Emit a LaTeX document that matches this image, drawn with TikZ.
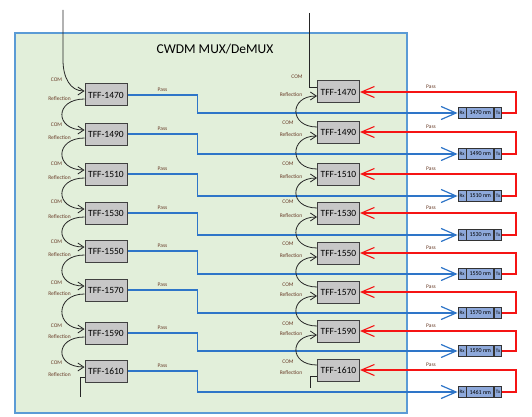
\documentclass[tikz,border=0pt]{standalone}
\usepackage{fontspec}
\setmainfont{Carlito}
\usetikzlibrary{arrows.meta}
\usetikzlibrary{positioning}

\definecolor{boxgreen}{RGB}{226,239,218}
\definecolor{boxblue}{RGB}{91,155,213}
\definecolor{wireblue}{RGB}{46,117,200}
\definecolor{wirered}{RGB}{245,20,20}
\definecolor{lblcol}{RGB}{105,60,40}
\definecolor{trxfill}{RGB}{142,169,219}

\tikzset{
  tff/.style={draw=black!75, fill=black!22, line width=1pt, minimum width=42pt, minimum height=22pt, inner sep=0pt, font=\fontsize{9.5}{10}\selectfont},
  trx/.style={draw=black!80, fill=trxfill, line width=0.8pt, minimum height=11pt, inner sep=0pt, font=\fontsize{5}{5}\selectfont},
  lbl/.style={font=\fontsize{5.5}{6}\selectfont, text=lblcol, inner sep=0pt},
  fibre/.style={draw=black!85, line width=0.8pt},
  fibrearrow/.style={-{Straight Barb[length=6pt,width=8pt]}},
  bluewire/.style={draw=wireblue, line width=1.2pt, -{Straight Barb[length=15pt,width=13pt]}},
  redwire/.style={draw=wirered, line width=1.1pt, -{Straight Barb[length=13pt,width=11pt]}}
}

\begin{document}
\begin{tikzpicture}[x=1pt, y=-1pt]
\useasboundingbox (0,0) rectangle (532,417);

\filldraw[fill=boxgreen, draw=boxblue, line width=1.1pt] (15,33) rectangle (407,413);
\node[font=\fontsize{13.5}{15}\selectfont] (title) at (215,49) {CWDM MUX/DeMUX};

\foreach \w/\lc/\rc/\tc/\nm/\cy/\rcx in {1470/95/92/113/1470/15/-20, 1490/134/132/154/1490/9/-29,
    1510/174/174/196/1510/10/-29, 1530/213/213/235/1530/11/-29, 1550/251/253/274/1550/9/-29,
    1570/290/292/313/1570/7/-29, 1590/333/331/351/1590/7/-29, 1610/371/370/392/1461/8/-29}{
  \node[tff] (L\w) at (106,\lc) {TFF-\w};
  \node[tff] (R\w) at (338.5,\rc) {TFF-\w};
  \node[trx, minimum width=8pt] (rx\w) at (462,\tc) {Rx};
  \node[trx, minimum width=27pt, right=0pt of rx\w, font=\fontsize{6}{6}\selectfont] (nm\w) {\nm\ nm};
  \node[trx, minimum width=7pt, right=0pt of nm\w] (tx\w) {Tx};

  \draw[bluewire] (L\w.east) -- ++(70,0) |- (rx\w.west);
  \draw[redwire] (tx\w.east) -- ++(14,0) |- (R\w.east);

  \node[lbl] (passL\w) at ([xshift=35pt,yshift=5pt]L\w.east) {Pass};
  \node[lbl] (passR\w) at ([xshift=71pt,yshift=5pt]R\w.east) {Pass};
  \node[lbl] (comL\w) at ([xshift=-28pt,yshift=\cy pt]L\w.west) {COM};
  \node[lbl] (refL\w) at ([xshift=-25pt,yshift=-4pt]L\w.west) {Reflection};
  \node[lbl] (comR\w) at ([xshift=\rcx pt,yshift=\cy pt]R\w.west) {COM};
  \node[lbl] (refR\w) at ([xshift=-26pt,yshift=-3pt]R\w.west) {Reflection};
}

\foreach \a/\b in {1470/1490, 1490/1510, 1510/1530, 1530/1550, 1550/1570, 1570/1590, 1590/1610}{
  \draw[fibre, fibrearrow] ([yshift=-4pt]L\a.west) .. controls +(-30,0) and +(-30,0) .. ([yshift=4pt]L\b.west);
  \draw[fibre, fibrearrow] ([yshift=5pt]R\b.west) .. controls +(-28,0) and +(-28,0) .. ([yshift=-4pt]R\a.west);
}

\coordinate (inL) at (63,10);
\coordinate (inR) at (309,13);
\coordinate (endL) at (80,397);
\coordinate (endR) at (310,388);
\draw[fibre, fibrearrow] (inL) -- ++(0,50) .. controls +(0,18) and +(-14,0) .. ([yshift=4pt]L1470.west);
\draw[fibre] (inR) |- ([yshift=5pt]R1470.west);
\draw[fibre] ([yshift=-6pt]L1610.west) -| (endL);
\draw[fibre] ([yshift=-6pt]R1610.west) -| (endR);
\end{tikzpicture}
\end{document}
